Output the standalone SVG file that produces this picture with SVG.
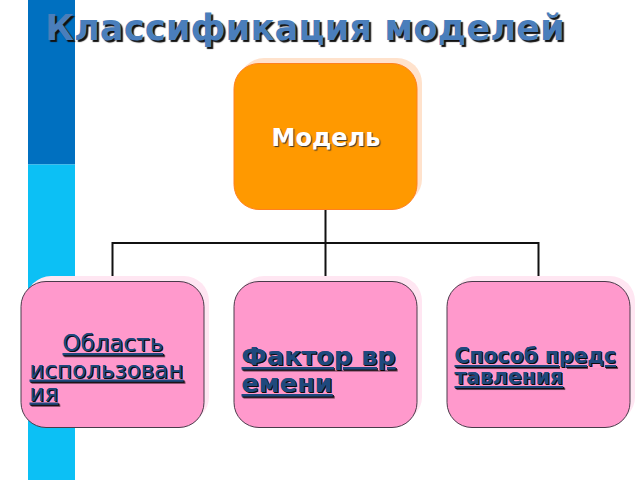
<svg xmlns="http://www.w3.org/2000/svg" width="640" height="480" viewBox="0 0 640 480">
<style>
text{font-family:"DejaVu Sans",sans-serif}
.t{font-size:35.400px;font-weight:bold;fill:#4a7ebb;text-shadow:2px 2px 1px #111}
.box{fill:#ff99cc;stroke:#4a3a4a;stroke-width:1}
.u{text-decoration:underline;fill:#1f497d;text-shadow:1px 1px 0 rgba(0,0,0,.75)}
.c{fill:none;stroke:#111;stroke-width:2}
</style>
<rect width="640" height="480" fill="#fff"/>
<g id="sidebar">
<rect x="28" y="0" width="47" height="164.500" fill="#0070c0"/>
<rect x="28" y="164.500" width="47" height="315.500" fill="#0cc0f5"/>
</g>
<g id="title">
<text class="t" x="45" y="39.500">Классификация моделей</text>
</g>
<g id="connectors">
<path class="c" d="M325.500 209V281M112.500 281V243H538.500V281"/>
</g>
<g id="node-model">
<rect x="239" y="58" width="183" height="146" rx="25" fill="#ffe2cc"/>
<rect x="234" y="63.500" width="183" height="146" rx="25" fill="#ff9900" stroke="#ff8020"/>
<text x="326" y="146" text-anchor="middle" font-size="24" font-weight="bold" fill="#fff" style="text-shadow:1px 1px 1px #333">Модель</text>
</g>
<g id="node-usage">
<rect x="26" y="276" width="183" height="146" rx="25" fill="#ffe6f2"/>
<rect x="21" y="281.500" width="183" height="146" rx="25" class="box"/>
<g font-size="23">
<text class="u" x="62.500" y="351">Область</text>
<text class="u" x="29.500" y="377.500">использован</text>
<text class="u" x="29.500" y="400.500">ия</text>
</g>
</g>
<g id="node-time">
<rect x="239" y="276" width="183" height="146" rx="25" fill="#ffe6f2"/>
<rect x="234" y="281.500" width="183" height="146" rx="25" class="box"/>
<g font-size="25.600" font-weight="bold">
<text class="u" x="241.500" y="365">Фактор вр</text>
<text class="u" x="241.500" y="392">емени</text>
</g>
</g>
<g id="node-method">
<rect x="452" y="276" width="183" height="146" rx="25" fill="#ffe6f2"/>
<rect x="447" y="281.500" width="183" height="146" rx="25" class="box"/>
<g font-size="20.400" font-weight="bold">
<text class="u" x="454.500" y="363">Способ предс</text>
<text class="u" x="454.500" y="384">тавления</text>
</g>
</g>
</svg>
